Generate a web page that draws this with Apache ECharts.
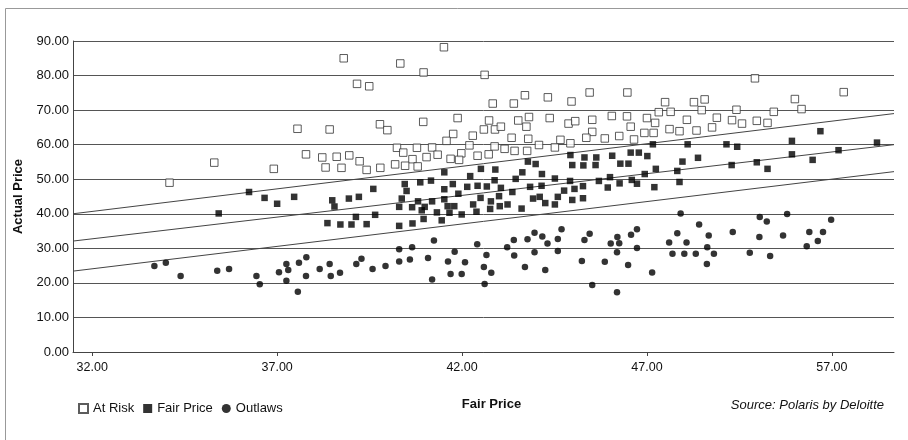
<!DOCTYPE html>
<html>
<head>
<meta charset="utf-8">
<script src="https://cdn.jsdelivr.net/npm/echarts@6/dist/echarts.min.js"></script>
<style>
  html, body { margin: 0; padding: 0; background: #fff; }
  #chart { width: 908px; height: 440px; }
</style>
</head>
<body>
<div id="chart"></div>
<script>
// Scatter of actual price against fair price, three pricing groups.
const xTickValues = [32, 37, 42, 47, 52];
const xTickLabels = ['32.00', '37.00', '42.00', '47.00', '57.00'];
const xRange = [31.48, 53.68];

// [fair price, actual price]
const atRisk = [
  [34.09,49.0],[35.30,54.8],[36.91,53.0],
  [38.80,85.0],[40.33,83.5],[39.16,77.6],[39.49,76.9],
  [37.55,64.6],[38.42,64.4],[39.78,65.9],[39.98,64.2],
  [37.78,57.2],[38.22,56.3],[38.61,56.5],[38.95,56.9],[39.23,55.2],
  [38.31,53.4],[38.74,53.3],[39.42,52.7],[39.79,53.3],[40.19,54.3],
  [40.24,59.1],[40.41,57.7],[40.78,59.1],[40.66,55.8],[40.46,53.9],[40.80,53.7],
  [41.51,88.2],[40.96,80.9],[42.61,80.2],[43.70,74.3],[42.83,71.9],[43.40,71.9],
  [40.95,66.6],[41.88,67.7],[42.73,67.0],[42.59,64.4],[42.89,64.4],[43.05,65.2],[43.52,67.0],[43.81,68.0],[43.74,65.2],
  [41.76,63.1],[41.58,61.1],[42.29,62.6],[43.34,62.0],[43.79,61.7],
  [41.19,59.2],[42.20,59.8],[42.88,59.5],[43.15,58.8],[43.42,58.2],[43.76,58.2],[44.08,59.9],
  [41.04,56.4],[41.34,57.1],[41.98,57.5],[41.69,55.9],[41.92,55.6],[42.42,56.8],[42.72,57.2],
  [44.32,73.7],[44.96,72.5],[45.45,75.1],[46.47,75.1],
  [44.37,67.7],[44.88,66.1],[45.06,66.8],[45.52,67.2],[46.05,68.3],[46.46,68.2],[47.00,67.7],[47.22,66.3],[46.56,65.2],
  [45.52,63.7],[45.36,62.0],[45.86,61.8],[46.25,62.5],[46.93,63.4],[47.18,63.4],[46.65,61.5],
  [44.51,59.2],[44.66,61.4],[44.93,60.4],
  [49.92,79.2],[47.49,72.3],[48.27,72.3],[48.56,73.1],[47.32,69.4],[47.64,69.5],[48.48,70.0],[49.42,70.1],[50.43,69.5],
  [48.08,67.2],[48.89,67.8],[49.30,67.1],[49.57,66.1],[49.97,66.9],[50.26,66.3],
  [47.61,64.5],[47.88,63.9],[48.34,64.1],[48.76,65.0],
  [51.00,73.2],[52.32,75.2],[51.18,70.3]
];

const fairPrice = [
  [35.42,40.1],[36.24,46.3],[36.66,44.6],[37.00,42.9],
  [37.46,44.9],[38.49,43.9],[38.55,42.1],[38.94,44.4],[39.21,44.9],[39.60,47.2],
  [38.36,37.3],[38.71,36.9],[39.01,36.9],[39.13,39.1],[39.42,37.0],[39.65,39.7],
  [40.45,48.6],[40.50,46.6],[40.37,44.4],[40.30,42.0],[40.65,41.9],[40.30,36.5],[40.66,37.2],
  [41.52,52.0],[42.51,53.0],[42.90,52.8],[43.78,55.1],[43.99,54.4],[43.63,52.0],
  [40.87,49.1],[41.16,49.6],[42.22,50.9],[41.75,48.6],[42.14,47.8],[42.42,48.1],[42.67,47.9],[42.88,49.7],[43.05,47.5],[43.45,50.1],[43.84,47.8],
  [41.52,47.1],[41.90,45.8],[43.36,46.3],[43.92,44.4],
  [40.81,43.6],[41.19,43.6],[41.52,44.2],[42.50,44.6],[42.30,42.7],[42.78,43.6],[43.00,45.1],[43.23,42.7],[43.02,42.2],[42.76,41.4],[43.61,41.5],
  [40.91,41.0],[40.99,42.0],[41.61,42.2],[41.79,42.2],[41.32,40.4],[41.66,40.3],[41.99,39.8],[42.39,40.6],
  [40.96,38.5],[41.45,38.1],
  [44.93,57.0],[45.31,56.3],[45.63,56.3],[46.06,56.8],[46.56,57.7],[46.78,57.7],[47.01,56.7],[47.16,60.1],
  [44.98,54.1],[45.28,54.0],[45.61,54.1],[46.28,54.5],[46.50,54.5],
  [44.16,51.5],[46.94,51.5],[44.51,50.2],[44.92,49.5],[45.70,49.5],[46.00,50.6],[46.59,49.8],[46.73,48.7],[46.26,48.8],
  [44.15,48.1],[45.27,48.0],[45.94,47.6],[47.20,47.7],[44.76,46.7],[45.04,47.2],
  [44.10,44.9],[44.59,44.9],[44.25,43.1],[44.51,42.7],[44.98,44.0],[45.27,44.5],
  [48.10,60.1],[49.15,60.1],[49.44,59.4],[47.96,55.1],[48.38,56.2],[47.24,53.0],[47.82,52.4],[49.29,54.1],[49.97,54.9],[50.26,53.0],[47.88,49.2],
  [51.69,63.9],[50.92,61.1],[53.22,60.6],[50.92,57.2],[52.18,58.4],[51.48,55.6]
];

const outlaws = [
  [33.68,24.9],[33.99,25.8],[34.39,22.0],[35.38,23.5],[35.70,24.0],[36.44,22.0],[36.53,19.6],[37.05,23.1],[37.25,25.5],[37.30,23.7],[37.25,20.6],
  [37.79,27.4],[37.59,25.8],[37.78,22.0],[37.56,17.4],[38.15,24.0],[38.42,25.5],[38.45,22.0],[38.70,22.9],[39.14,25.5],[39.28,27.0],[39.58,24.0],[39.93,24.9],[40.30,29.7],[40.30,26.2],[40.59,26.8],[40.65,30.3],
  [41.24,32.3],[41.08,27.2],[41.80,29.0],[42.41,31.2],[41.62,26.2],[42.08,26.0],[42.66,28.1],[42.59,24.6],[42.79,22.9],[41.69,22.6],[41.99,22.6],[41.19,21.0],[42.61,19.7],[43.22,30.3],[43.40,32.4],[43.41,27.9],[43.77,32.6],[43.96,34.5],[43.96,28.9],[43.70,24.6],
  [44.17,33.4],[44.31,31.4],[44.59,32.7],[44.69,35.5],[44.59,29.2],[44.25,23.7],[45.31,32.4],[45.45,34.2],[45.24,26.3],[45.52,19.4],[46.02,31.4],[46.20,33.3],[46.25,31.5],[46.19,28.9],[45.86,26.1],[46.57,33.9],[46.73,35.5],[46.73,30.1],[46.49,25.2],[46.19,17.3],[47.14,23.0],
  [47.91,40.1],[48.41,36.9],[50.05,39.1],[50.24,37.8],[47.82,34.4],[48.67,33.7],[49.32,34.7],[50.04,33.3],[47.60,31.7],[48.07,31.7],[48.63,30.3],[47.69,28.4],[48.01,28.4],[48.32,28.4],[48.81,28.4],[49.78,28.7],[50.33,27.8],[48.62,25.5],
  [50.79,39.9],[51.98,38.3],[50.68,33.7],[51.39,34.7],[51.76,34.7],[51.62,32.1],[51.32,30.6]
];

// Band boundaries: actual price at the left and right ends of the axis.
const bandLines = [
  [40.0, 69.0],
  [32.1, 60.0],
  [23.4, 52.2]
];

const FONT = "'Liberation Sans', Arial, Helvetica, sans-serif";
const chart = echarts.init(document.getElementById('chart'), null, { renderer: 'canvas' });

const lineSeries = bandLines.map((b, i) => ({
  name: 'band' + i,
  type: 'line',
  data: [[xRange[0], b[0]], [xRange[1], b[1]]],
  symbol: 'none',
  silent: true,
  lineStyle: { color: '#444', width: 1 },
  z: 1
}));

chart.setOption({
  animation: false,
  backgroundColor: '#fff',
  textStyle: { fontFamily: FONT },
  grid: { left: 73, right: 14, top: 41, bottom: 88 },
  legend: {
    data: ['At Risk', 'Fair Price', 'Outlaws'],
    left: 73,
    top: 397,
    itemWidth: 9,
    itemHeight: 9,
    itemGap: 9,
    textStyle: { fontFamily: FONT, fontSize: 13, color: '#111' },
    selectedMode: false
  },
  xAxis: {
    type: 'value',
    min: xRange[0],
    max: xRange[1],
    name: 'Fair Price',
    nameLocation: 'middle',
    nameGap: 46,
    nameTextStyle: { fontFamily: FONT, fontSize: 13, fontWeight: 'bold', color: '#111', padding: [0, 0, 0, 16] },
    axisLine: { show: true, lineStyle: { color: '#444', width: 1 } },
    axisTick: { show: true, length: 4, customValues: xTickValues, lineStyle: { color: '#444' } },
    axisLabel: {
      customValues: xTickValues,
      margin: 9,
      fontFamily: FONT, fontSize: 12.5, color: '#111',
      formatter: v => {
        const i = xTickValues.indexOf(Math.round(v));
        return i >= 0 ? xTickLabels[i] : '';
      }
    },
    splitLine: { show: false }
  },
  yAxis: {
    type: 'value',
    min: 0,
    max: 90,
    interval: 10,
    name: 'Actual Price',
    nameLocation: 'middle',
    nameGap: 48,
    nameRotate: 90,
    nameTextStyle: { fontFamily: FONT, fontSize: 13, fontWeight: 'bold', color: '#111' },
    axisLine: { show: true, lineStyle: { color: '#444', width: 1 } },
    axisTick: { show: false },
    axisLabel: { margin: 4, fontFamily: FONT, fontSize: 13, color: '#111', formatter: v => v.toFixed(2) },
    splitLine: { show: true, lineStyle: { color: '#555', width: 1 } }
  },
  graphic: [
    {
      type: 'rect',
      shape: { x: 5.5, y: 8.5, width: 920, height: 460 },
      style: { fill: null, stroke: '#999', lineWidth: 1 },
      silent: true
    },
    {
      type: 'text',
      right: 24,
      top: 399,
      style: { text: 'Source: Polaris by Deloitte', font: 'italic 13px ' + FONT, fill: '#111' }
    }
  ],
  series: [
    ...lineSeries,
    {
      name: 'At Risk',
      type: 'scatter',
      data: atRisk,
      symbol: 'rect',
      symbolSize: 7.5,
      itemStyle: { color: '#fff', borderColor: '#333', borderWidth: 1 },
      z: 3
    },
    {
      name: 'Fair Price',
      type: 'scatter',
      data: fairPrice,
      symbol: 'rect',
      symbolSize: 6.5,
      itemStyle: { color: '#000' },
      z: 3
    },
    {
      name: 'Outlaws',
      type: 'scatter',
      data: outlaws,
      symbol: 'circle',
      symbolSize: 6.5,
      itemStyle: { color: '#000' },
      z: 3
    }
  ]
});
</script>
</body>
</html>
